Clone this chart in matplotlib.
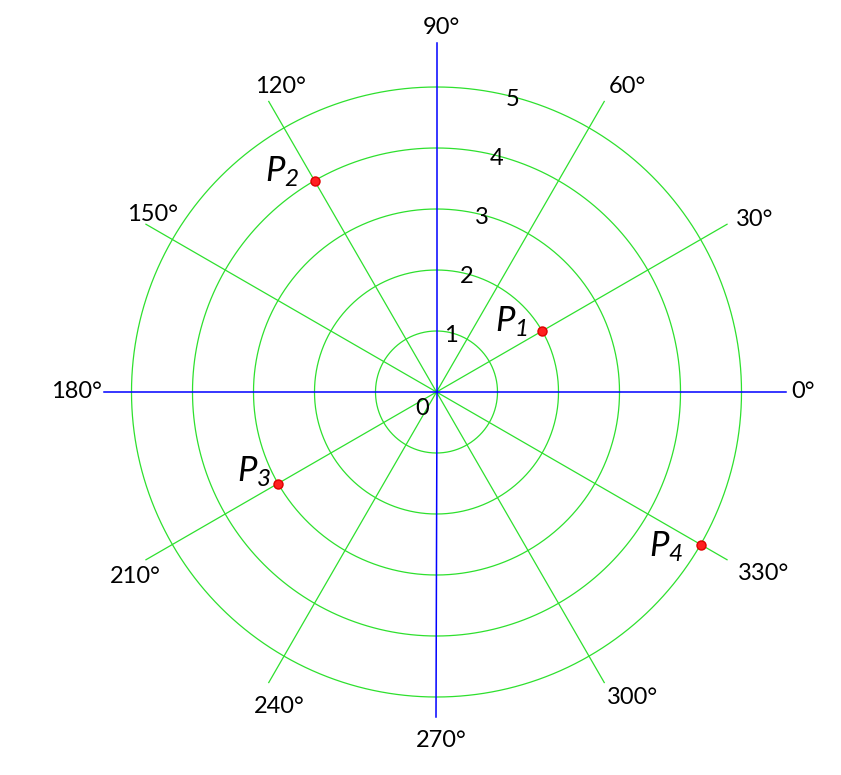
import numpy as np
import matplotlib.pyplot as plt

plt.rcParams['font.family'] = ['Lato', 'DejaVu Sans']
plt.rcParams['mathtext.fontset'] = 'custom'
plt.rcParams['mathtext.it'] = 'Lato:italic'
plt.rcParams['mathtext.rm'] = 'Lato:italic'

# data
rings = [1, 2, 3, 4, 5]
spoke_angles = [30, 60, 120, 150, 210, 240, 300, 330]
angle_labels = [0, 30, 60, 90, 120, 150, 180, 210, 240, 270, 300, 330]
point_names = ['1', '2', '3', '4']
point_r = [2, 4, 3, 5]
point_theta = [30, 120, 210, 330]

# where the angle labels sit (theta deg, r) and P label offsets in pixels
label_pos = [(0, 6.01), (28.4, 5.93), (58, 5.9), (89.3, 5.97), (117.1, 5.63),
             (147.9, 5.49), (180, 5.91), (211.5, 5.8), (243.4, 5.76),
             (270.7, 5.71), (302.7, 5.96), (330.9, 6.13)]
p_offsets = [(-31, 9), (-32, 9), (-24, 12), (-34, -2)]

green = '#2ee02e'
blue = '#0000ff'
rmax = 6.3
scale = 61.0  # pixels per unit
fs = 17

fig = plt.figure(figsize=(8.41, 7.75), dpi=100)
w = 2 * rmax * scale
ax = fig.add_axes([(436.5 - rmax * scale) / 841, (383 - rmax * scale) / 775,
                   w / 841, w / 775], projection='polar')
ax.set_ylim(0, rmax)
ax.axis('off')

th = np.linspace(0, 2 * np.pi, 721)
for r in rings:
    ax.plot(th, np.full_like(th, r), color=green, lw=0.9, zorder=1)

for a in spoke_angles:
    t = np.deg2rad(a)
    ax.plot([t, t], [0, 5.5], color=green, lw=0.9, zorder=1)

# blue axes
for a, length in [(0, 5.73), (90, 5.72), (180, 5.45), (270, 5.33)]:
    t = np.deg2rad(a)
    ax.plot([t, t], [0, length], color=blue, lw=1.1, zorder=2)

for lab, (a, r) in zip(angle_labels, label_pos):
    ax.text(np.deg2rad(a), r, f'{lab}°', fontsize=fs, ha='center', va='center')

for r in rings:
    ax.text(np.deg2rad(75.5), r - 0.05, str(r), fontsize=fs, ha='center', va='center')
ax.text(np.deg2rad(229), 0.35, '0', fontsize=fs, ha='center', va='center')

thetas = np.deg2rad(point_theta)
ax.plot(thetas, point_r, 'o', color='#ff2020', mec='#dd0000', ms=6.5, zorder=3,
        clip_on=False)
for name, t, r, off in zip(point_names, thetas, point_r, p_offsets):
    ax.annotate('$P_{' + name + '}$', (t, r), xytext=off,
                textcoords='offset pixels', fontsize=25, ha='center', va='center')

fig.savefig('out.png', dpi=100)
